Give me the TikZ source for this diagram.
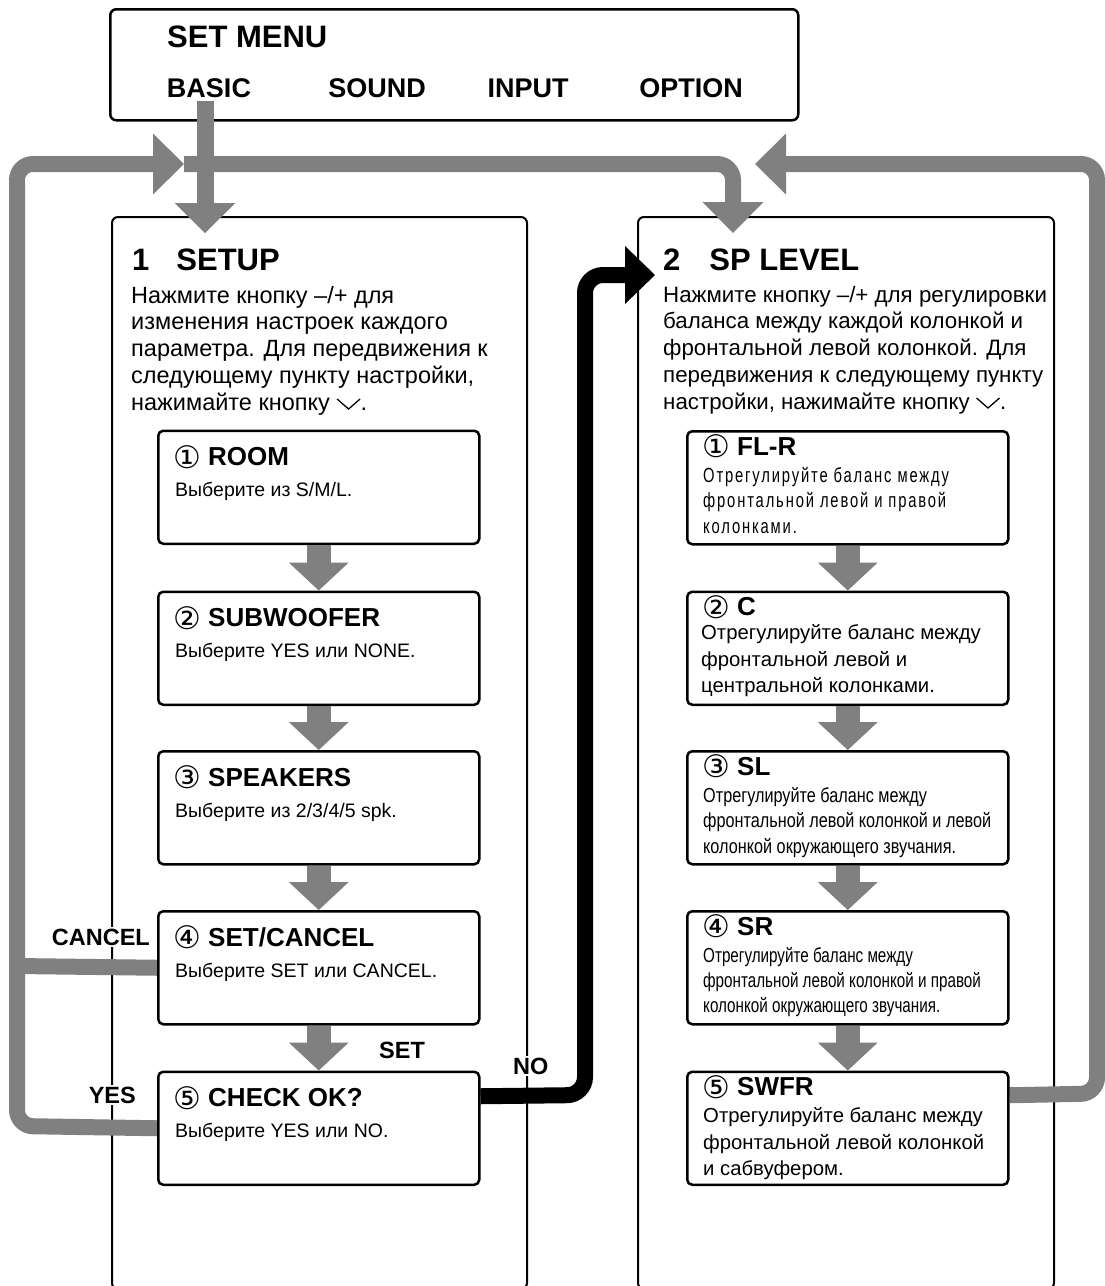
\documentclass[tikz,border=0pt]{standalone}
\usepackage{fontspec}
\usepackage{graphicx}
\setmainfont{Liberation Sans}
\newfontfamily\circfont{DejaVu Sans}
\newfontfamily\narrowfont{Liberation Sans}[FakeStretch=0.8]
\newfontfamily\narrowerfont{Liberation Sans}[FakeStretch=0.75]
\newfontfamily\spacedfont{Liberation Sans}[FakeStretch=0.72,LetterSpace=9]
\usetikzlibrary{arrows.meta, positioning, calc}
\definecolor{flowgrey}{HTML}{808080}
\newcommand{\downkey}{\tikz[x=1pt, y=1pt, baseline=0pt]\draw[line width=1.3pt] (0,11) -- (11.5,1) -- (23,11);}
\newcommand{\stepno}[1]{\raisebox{-2.5pt}{\circfont\mdseries\fontsize{31}{31}\selectfont #1}}

\begin{document}
\begin{tikzpicture}[x=1pt, y=-1pt,
  menubox/.style={draw, line width=2.5pt, rounded corners=6pt, anchor=north west,
    minimum width=688pt, minimum height=111pt},
  panel/.style={draw, line width=2pt, rounded corners=6pt, anchor=north west,
    minimum width=415pt, minimum height=1072pt},
  stepbox/.style={draw, line width=2.5pt, rounded corners=5pt, fill=white, anchor=north west,
    minimum width=321pt, minimum height=113pt},
  menuitem/.style={anchor=base, font=\fontsize{27}{27}\selectfont\bfseries},
  heading/.style={anchor=base west, inner sep=0pt, font=\fontsize{31}{31}\selectfont\bfseries},
  body/.style={anchor=base west, align=left, inner sep=0pt, font=\fontsize{23.5}{26.7}\selectfont},
  steptitle/.style={anchor=base west, inner sep=0pt, font=\fontsize{26}{26}\selectfont\bfseries},
  stepnote/.style={anchor=base west, align=left, inner sep=0pt, font=\fontsize{19.5}{26.5}\selectfont},
  tag/.style={fill=white, inner sep=2pt, font=\fontsize{23.5}{23.5}\selectfont\bfseries},
  garrow/.style={draw=flowgrey, line width=24pt, -{Triangle[width=60pt, length=28pt, line width=0pt]}},
  gline/.style={draw=flowgrey, line width=16pt, rounded corners=16pt},
  ghead/.style={-{Triangle[width=61pt, length=31pt, line width=0pt]}},
  karrow/.style={draw=black, line width=16pt, rounded corners=18pt,
    -{Triangle[width=58pt, length=30pt, line width=0pt]}}]
  \useasboundingbox (0,0) rectangle (1104,1286);

  % menu
  \node[menubox] (menu) at (109,8) {};
  \node[heading] (menutitle) at (167,47) {SET MENU};
  \node[menuitem] (basic) at (209,97) {BASIC};
  \node[menuitem] (sound) at (377,97) {SOUND};
  \node[menuitem] (input) at (528,97) {INPUT};
  \node[menuitem] (option) at (691,97) {OPTION};

  % panels (multi-line texts sit on their last baseline)
  \node[panel] (setup) at (111,216) {};
  \node[panel, minimum width=416pt] (level) at (637,216) {};
  \node[heading] (setupT) at (132,270) {1\hspace{27pt}SETUP};
  \node[heading] (levelT) at (663,270) {2\hspace{29pt}SP LEVEL};
  \node[body] (setupD) at (131,410) {Нажмите кнопку –/+ для\\изменения настроек каждого\\параметра. Для передвижения к\\следующему пункту настройки,\\нажимайте кнопку \downkey.};
  \node[body, font=\fontsize{22.3}{26.7}\selectfont] (levelD) at (663,409) {Нажмите кнопку –/+ для регулировки\\баланса между каждой колонкой и\\фронтальной левой колонкой. Для\\передвижения к следующему пункту\\настройки, нажимайте кнопку \downkey.};

  % labels on the loops
  \node[tag, anchor=base east] (cancelL) at (152,945) {CANCEL};
  \node[tag, anchor=base east] (yesL) at (138,1103) {YES};
  \node[tag, anchor=base west] (setL) at (377,1058) {SET};
  \node[tag, anchor=base west] (noL) at (511,1074) {NO};

  % loops
  \coordinate (setupin) at (205,233);
  \coordinate (levelin) at (733,233);
  \coordinate (loopin) at (184,164);
  \coordinate (backin) at (755,164);
  \coordinate (levelkey) at (655,275);
  \node[stepbox, draw=none, fill=none] (check) at (157,1070.5) {};
  \node[stepbox, draw=none, fill=none] (setc) at (157,910) {};
  \node[stepbox, draw=none, fill=none] (swfr) at (686,1070.5) {};
  \draw[gline, ghead] (check.west) -- (17,1126) -- (17,164) -- (loopin);
  \draw[gline] (setc.west) -- (17,966);
  \draw[gline, ghead] (loopin) -- (733,164) -- (levelin);
  \draw[gline, ghead] ($(swfr.east)+(0,-33)$) -- (1097,1093.5) -- (1097,164) -- (backin);
  \draw[karrow] ($(check.east)+(0,-32)$) -- (585,1095) -- (585,275) -- (levelkey);
  \draw[draw=flowgrey, line width=17pt, -{Triangle[width=61pt, length=30pt, line width=0pt]}]
    ([xshift=-4pt]basic.south) -- (setupin);

  % setup steps
  \node[stepbox] (room) at (157,429.5) {};
  \node[stepbox] (sub) at (157,590.5) {};
  \node[stepbox] (spk) at (157,750) {};
  \node[stepbox] (setc) at (157,910) {};
  \node[stepbox] (check) at (157,1070.5) {};
  \node[steptitle] (roomT) at ([shift={(16,36)}]room.north west) {\stepno{①} ROOM};
  \node[stepnote] (roomN) at ([shift={(18,67)}]room.north west) {Выберите из S/M/L.};
  \node[steptitle] (subT) at ([shift={(16,36)}]sub.north west) {\stepno{②} SUBWOOFER};
  \node[stepnote] (subN) at ([shift={(18,67)}]sub.north west) {Выберите YES или NONE.};
  \node[steptitle] (spkT) at ([shift={(16,36)}]spk.north west) {\stepno{③} SPEAKERS};
  \node[stepnote] (spkN) at ([shift={(18,67)}]spk.north west) {Выберите из 2/3/4/5 spk.};
  \node[steptitle] (setcT) at ([shift={(16,36)}]setc.north west) {\stepno{④} SET/CANCEL};
  \node[stepnote] (setcN) at ([shift={(18,67)}]setc.north west) {Выберите SET или CANCEL.};
  \node[steptitle] (checkT) at ([shift={(16,36)}]check.north west) {\stepno{⑤} CHECK OK?};
  \node[stepnote] (checkN) at ([shift={(18,67)}]check.north west) {Выберите YES или NO.};

  % level steps
  \node[stepbox] (flr) at (686,430) {};
  \node[stepbox] (cen) at (686,590.5) {};
  \node[stepbox] (sl) at (686,750) {};
  \node[stepbox] (sr) at (686,910) {};
  \node[stepbox] (swfr) at (686,1070.5) {};
  \node[steptitle] (flrT) at ([shift={(16,25)}]flr.north west) {\stepno{①} FL-R};
  \node[stepnote, font=\spacedfont\fontsize{20.5}{25.5}\selectfont] (flrN) at ([shift={(17,103)}]flr.north west)
    {Отрегулируйте баланс между\\фронтальной левой и правой\\колонками.};
  \node[steptitle] (cenT) at ([shift={(16,25)}]cen.north west) {\stepno{②} C};
  \node[stepnote, font=\fontsize{20.3}{26.5}\selectfont] (cenN) at ([shift={(15,102)}]cen.north west)
    {Отрегулируйте баланс между\\фронтальной левой и\\центральной колонками.};
  \node[steptitle] (slT) at ([shift={(16,25)}]sl.north west) {\stepno{③} SL};
  \node[stepnote, font=\narrowfont\fontsize{20.3}{25.5}\selectfont] (slN) at ([shift={(17,103)}]sl.north west)
    {Отрегулируйте баланс между\\фронтальной левой колонкой и левой\\колонкой окружающего звучания.};
  \node[steptitle] (srT) at ([shift={(16,25)}]sr.north west) {\stepno{④} SR};
  \node[stepnote, font=\narrowerfont\fontsize{20.3}{25}\selectfont] (srN) at ([shift={(17,102)}]sr.north west)
    {Отрегулируйте баланс между\\фронтальной левой колонкой и правой\\колонкой окружающего звучания.};
  \node[steptitle] (swfrT) at ([shift={(16,25)}]swfr.north west) {\stepno{⑤} SWFR};
  \node[stepnote, font=\fontsize{20.3}{26.5}\selectfont] (swfrN) at ([shift={(17,105)}]swfr.north west)
    {Отрегулируйте баланс между\\фронтальной левой колонкой\\и сабвуфером.};

  % step arrows
  \draw[garrow] (room.south) -- (sub.north);
  \draw[garrow] (sub.south) -- (spk.north);
  \draw[garrow] (spk.south) -- (setc.north);
  \draw[garrow] (setc.south) -- (check.north);
  \draw[garrow] (flr.south) -- (cen.north);
  \draw[garrow] (cen.south) -- (sl.north);
  \draw[garrow] (sl.south) -- (sr.north);
  \draw[garrow] (sr.south) -- (swfr.north);
\end{tikzpicture}
\end{document}
